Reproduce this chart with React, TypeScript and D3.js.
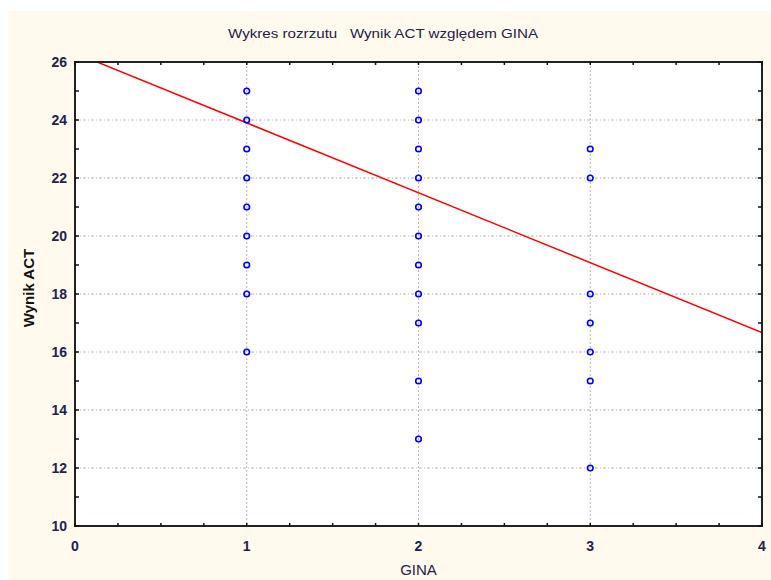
import React, { useEffect, useRef } from 'react'
import * as d3 from 'd3'

// GINA group -> Wynik ACT values
const gina1 = [25, 24, 23, 22, 21, 20, 19, 18, 16]
const gina2 = [25, 24, 23, 22, 21, 20, 19, 18, 17, 15, 13]
const gina3 = [23, 22, 18, 17, 16, 15, 12]
const groups = [1, 2, 3]
const xTicks = [0, 1, 2, 3, 4]
const yTicks = [10, 12, 14, 16, 18, 20, 22, 24, 26]
// fitted line
const lineIntercept = 26.31
const lineSlope = -2.41

const title = 'Wykres rozrzutu   Wynik ACT względem GINA'
const xLabel = 'GINA'
const yLabel = 'Wynik ACT'

const App = () => {
  const ref = useRef<SVGSVGElement>(null)

  useEffect(() => {
    const W = 771, H = 580
    const margin = { top: 62, right: 9, bottom: 54, left: 75 }
    const width = W - margin.left - margin.right
    const height = H - margin.top - margin.bottom

    const svg = d3.select(ref.current)
    svg.selectAll('*').remove()

    svg.append('rect').attr('x', 8).attr('y', 11).attr('width', W - 8).attr('height', H - 11).attr('fill', '#fff9ee')

    const g = svg.append('g').attr('transform', 'translate(' + margin.left + ',' + margin.top + ')')

    var x = d3.scaleLinear().domain([0, 4]).range([0, width])
    var y = d3.scaleLinear().domain([10, 26]).range([height, 0])

    g.append('rect').attr('width', width).attr('height', height).attr('fill', '#fff')

    // grid
    g.selectAll('.gx').data(groups).enter().append('line')
      .attr('x1', d => x(d)).attr('x2', d => x(d)).attr('y1', 0).attr('y2', height)
      .attr('stroke', '#b4b4b4').attr('stroke-dasharray', '2,2')
    g.selectAll('.gy').data(yTicks.slice(1, -1)).enter().append('line')
      .attr('y1', d => y(d)).attr('y2', d => y(d)).attr('x1', 0).attr('x2', width)
      .attr('stroke', '#b4b4b4').attr('stroke-dasharray', '3,2,1,2')

    // regression line
    const xs = [0, 4]
    const clip = svg.append('clipPath').attr('id', 'plotclip')
    clip.append('rect').attr('x', 0).attr('y', 0).attr('width', width).attr('height', height)
    g.append('line')
      .attr('clip-path', 'url(#plotclip)')
      .attr('x1', x(xs[0])).attr('y1', y(lineIntercept + lineSlope * xs[0]))
      .attr('x2', x(xs[1])).attr('y2', y(lineIntercept + lineSlope * xs[1]))
      .attr('stroke', '#ff0000').attr('stroke-width', 1.5)

    // points
    const pts: [number, number][] = []
    gina1.forEach(v => pts.push([1, v]))
    gina2.forEach(v => pts.push([2, v]))
    gina3.forEach(v => pts.push([3, v]))
    g.selectAll('.pt').data(pts).enter().append('circle')
      .attr('cx', d => x(d[0])).attr('cy', d => y(d[1])).attr('r', 2.8)
      .attr('fill', 'none').attr('stroke', '#0000ff').attr('stroke-width', 1.6)

    // frame
    g.append('rect').attr('width', width).attr('height', height)
      .attr('fill', 'none').attr('stroke', '#222').attr('stroke-width', 2)

    // inward ticks
    const xMinor = d3.range(0, 4.001, 0.25)
    const yMinor = d3.range(10, 26.001, 1)
    const tk = g.append('g').attr('stroke', '#111').attr('stroke-width', 1.5)
    xMinor.forEach(v => {
      tk.append('line').attr('x1', x(v)).attr('x2', x(v)).attr('y1', height).attr('y2', height - 3)
      tk.append('line').attr('x1', x(v)).attr('x2', x(v)).attr('y1', 0).attr('y2', 3)
    })
    yMinor.forEach(v => {
      tk.append('line').attr('y1', y(v)).attr('y2', y(v)).attr('x1', 0).attr('x2', 4)
      tk.append('line').attr('y1', y(v)).attr('y2', y(v)).attr('x1', width).attr('x2', width - 4)
    })

    const font = 'Arial, "Liberation Sans", sans-serif'
    g.selectAll('.xl').data(xTicks).enter().append('text')
      .attr('x', d => x(d)).attr('y', height + 25).attr('text-anchor', 'middle')
      .attr('font-family', font).attr('font-size', 14).attr('font-weight', 'bold').attr('fill', '#23234a')
      .text(d => d)
    g.selectAll('.yl').data(yTicks).enter().append('text')
      .attr('x', -8).attr('y', d => y(d) + 5).attr('text-anchor', 'end')
      .attr('font-family', font).attr('font-size', 14).attr('font-weight', 'bold').attr('fill', '#23234a')
      .text(d => d)

    svg.append('text').attr('x', 228).attr('y', 38)
      .attr('font-family', font).attr('font-size', 13).attr('fill', '#222244')
      .attr('textLength', 310).attr('lengthAdjust', 'spacingAndGlyphs')
      .style('white-space', 'pre').text(title)
    svg.append('text').attr('x', margin.left + width / 2).attr('y', 575).attr('text-anchor', 'middle')
      .attr('font-family', font).attr('font-size', 15).attr('fill', '#23234a').text(xLabel)
    svg.append('text').attr('transform', 'translate(34,288) rotate(-90)').attr('text-anchor', 'middle')
      .attr('font-family', font).attr('font-size', 15).attr('font-weight', 'bold').attr('fill', '#111').text(yLabel)
  }, [])

  return (
    <svg ref={ref} width={771} height={580} style={{ position: 'absolute', left: 0, top: 0 }}></svg>
  )
}

export default App
